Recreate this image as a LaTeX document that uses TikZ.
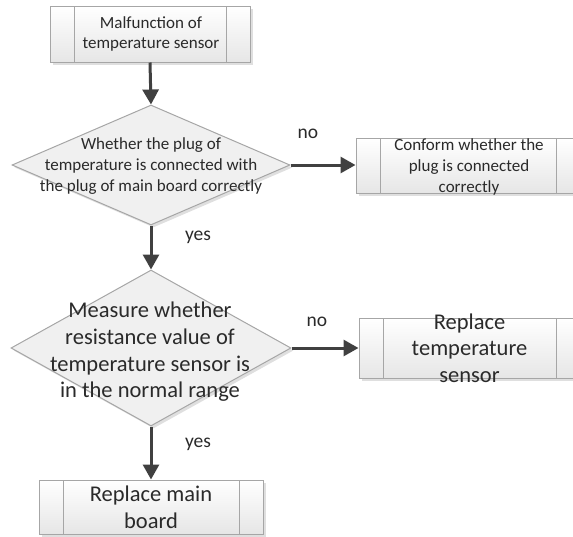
\documentclass[tikz,border=0pt]{standalone}
\usepackage{fontspec}
\setmainfont{Carlito}
\usetikzlibrary{arrows.meta,shapes.geometric,shadows,positioning}
\tikzset{every picture/.style={line width=0.75pt}}
\definecolor{edgegray}{HTML}{A6A6A6}
\definecolor{fillgray}{HTML}{E6E6E6}
\definecolor{textgray}{HTML}{2A2A2A}
\definecolor{arrowgray}{HTML}{404040}
\tikzset{
  procbox/.style={rectangle, draw=edgegray, line width=1pt, top color=white, bottom color=fillgray,
    drop shadow={shadow xshift=2.5pt, shadow yshift=-2.5pt, opacity=0.25},
    path picture={
      \draw[edgegray, line width=1pt] ([xshift=24pt]path picture bounding box.north west) -- ([xshift=24pt]path picture bounding box.south west);
      \draw[edgegray, line width=1pt] ([xshift=-24pt]path picture bounding box.north east) -- ([xshift=-24pt]path picture bounding box.south east);
    }},
  decision/.style={diamond, draw=edgegray, line width=1pt, fill=fillgray!60, inner sep=0pt,
    drop shadow={shadow xshift=2.5pt, shadow yshift=-2.5pt, opacity=0.25}},
  smalltext/.style={align=center, inner sep=0pt, text=textgray, font=\fontsize{17}{20.8}\selectfont},
  bigtext/.style={align=center, inner sep=0pt, text=textgray, font=\fontsize{22.5}{26.7}\selectfont},
  flowlabel/.style={inner sep=0pt, text=textgray, font=\fontsize{19.5}{22}\selectfont},
  flow/.style={draw=arrowgray, line width=3pt, -{Triangle[length=15pt,width=16pt]}}
}

\begin{document}
\begin{tikzpicture}[x=1pt,y=-1pt]
    \clip (0,0) rectangle (573,536);

    % Boxes
    \node[procbox, minimum width=200pt, minimum height=56pt] (fault) at (150,34) {};
    \node[smalltext] (faulttxt) at (151,34) {Malfunction of\\temperature sensor};

    \node[procbox, minimum width=224pt, minimum height=55pt] (conform) at (468,165.5) {};
    \node[smalltext] (conformtxt) at (469,167) {Conform whether the\\plug is connected\\correctly};

    \node[procbox, minimum width=221pt, minimum height=60pt] (rsensor) at (469.5,348) {};
    \node[bigtext] (rsensortxt) at (469.5,348) {Replace\\temperature\\sensor};

    \node[procbox, minimum width=224pt, minimum height=54pt] (rboard) at (151,507) {};
    \node[bigtext] (rboardtxt) at (rboard) {Replace main\\board};

    % Decisions
    \node[decision, minimum width=278pt, minimum height=120pt] (plug) at (151,165) {};
    \node[smalltext] (plugtxt) at (151,166) {Whether the plug of\\temperature is connected with\\the plug of main board correctly};

    \node[decision, minimum width=280pt, minimum height=156pt] (measure) at (151,348) {};
    \node[bigtext] (measuretxt) at (150,352) {Measure whether\\resistance value of\\temperature sensor is\\in the normal range};

    % Arrows
    \draw[flow] (fault.south) -- (plug.north);
    \draw[flow] (plug.east) -- (plug.east -| conform.west);
    \draw[flow] (plug.south) -- (measure.north);
    \draw[flow] (measure.east) -- (measure.east -| rsensor.west);
    \draw[flow] (measure.south) -- (rboard.north);

    % Labels
    \node[flowlabel] (no1) at (308,134) {no};
    \node[flowlabel] (yes1) at (198,237) {yes};
    \node[flowlabel] (no2) at (317,322) {no};
    \node[flowlabel] (yes2) at (198,444) {yes};
\end{tikzpicture}
\end{document}
